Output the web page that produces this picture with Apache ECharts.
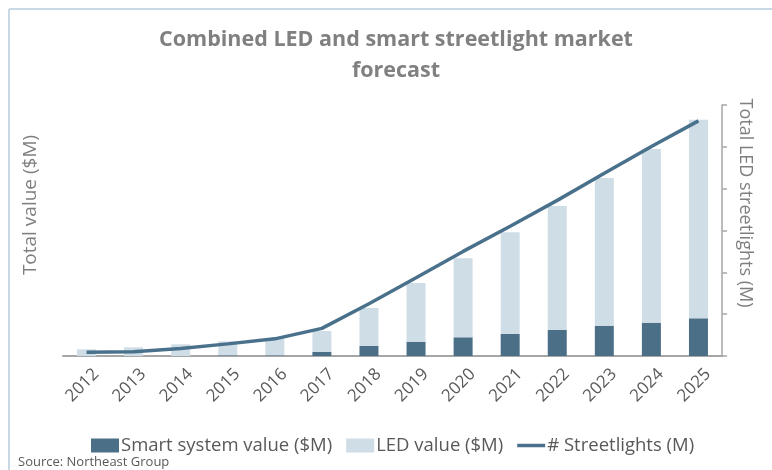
<!DOCTYPE html>
<html>
<head>
<meta charset="utf-8">
<script src="https://cdn.jsdelivr.net/npm/echarts@6/dist/echarts.min.js"></script>
<style>html,body{margin:0;padding:0;background:#fff}#c{width:772px;height:470px}</style>
</head>
<body>
<div id="c"></div>
<script>
const years = ['2012','2013','2014','2015','2016','2017','2018','2019','2020','2021','2022','2023','2024','2025'];
const smartValue = [0, 0, 0, 17, 17, 96, 239, 342, 447, 526, 622, 724, 796, 901];
const ledValue = [160, 208, 280, 334, 413, 502, 908, 1403, 1889, 2431, 2964, 3531, 4153, 4748];
const streetlights = [0.9, 1.0, 1.8, 2.9, 4.1, 6.6, 12.5, 18.7, 25.0, 31.0, 37.2, 43.7, 50.1, 56.2];

const FONT = '"Open Sans", sans-serif';
const chart = echarts.init(document.getElementById('c'), null, {renderer: 'canvas'});
chart.setOption({
  animation: false,
  backgroundColor: '#fff',
  title: {
    text: 'Combined LED and smart streetlight market\nforecast',
    left: 391, top: 19, textAlign: 'center',
    textStyle: {fontFamily: FONT, fontWeight: 'bold', fontSize: 21.5, color: '#808080', lineHeight: 31}
  },
  grid: {left: 63, right: 50, top: 105, bottom: 114, containLabel: false},
  legend: {
    top: 431, left: 86,
    itemWidth: 28, itemHeight: 14, itemGap: 14,
    textStyle: {fontFamily: FONT, fontSize: 18.5, color: '#595959', padding: [0,0,0,-3]},
    data: [
      {name: 'Smart system value ($M)', icon: 'rect'},
      {name: 'LED value ($M)', icon: 'rect'},
      {name: '# Streetlights (M)', icon: 'path://M0,0L24,0L24,3L0,3Z'}
    ]
  },
  xAxis: {
    type: 'category', data: years,
    axisLine: {lineStyle: {color: '#a6a6a6', width: 2}},
    axisTick: {show: false},
    axisLabel: {rotate: 45, fontFamily: FONT, fontSize: 17, color: '#595959', margin: 6,
                verticalAlign: 'top', padding: [5,0,0,0]}
  },
  yAxis: [
    {type: 'value', min: 0, max: 6000, interval: 1000,
     axisLine: {show: false}, axisTick: {show: false}, axisLabel: {show: false}, splitLine: {show: false}},
    {type: 'value', position: 'right', min: 0, max: 60, interval: 10,
     axisLine: {show: true, lineStyle: {color: '#a6a6a6', width: 1.5}},
     axisTick: {show: true, length: 5, lineStyle: {color: '#a6a6a6', width: 1.5}},
     axisLabel: {show: false}, splitLine: {show: false}}
  ],
  series: [
    {name: 'Smart system value ($M)', type: 'bar', stack: 'v', data: smartValue, barWidth: 19,
     itemStyle: {color: '#4c6f88'}},
    {name: 'LED value ($M)', type: 'bar', stack: 'v', data: ledValue, barWidth: 19,
     itemStyle: {color: '#cfdde6'}},
    {name: '# Streetlights (M)', type: 'line', yAxisIndex: 1, data: streetlights,
     symbol: 'none', showSymbol: false,
     lineStyle: {color: '#4a718b', width: 3.5}, itemStyle: {color: '#4a718b'}}
  ],
  graphic: [
    {type: 'line', shape: {x1: 9, y1: 9, x2: 772, y2: 9}, style: {stroke: '#c8d9e5', lineWidth: 2}},
    {type: 'line', shape: {x1: 9, y1: 9, x2: 9, y2: 470}, style: {stroke: '#c8d9e5', lineWidth: 2}},
    {type: 'text', x: 31, y: 205, rotation: Math.PI/2,
     style: {text: 'Total value ($M)', font: '19px "Open Sans", sans-serif', fill: '#7f7f7f', textAlign: 'center', textVerticalAlign: 'middle'}},
    {type: 'text', x: 745, y: 203, rotation: -Math.PI/2,
     style: {text: 'Total LED streetlights (M)', font: '18px "Open Sans", sans-serif', fill: '#7f7f7f', textAlign: 'center', textVerticalAlign: 'middle'}},
    {type: 'text', x: 18, y: 462,
     style: {text: 'Source: Northeast Group', font: '13px "Open Sans", sans-serif', fill: '#595959', textAlign: 'left', textVerticalAlign: 'middle'}}
  ]
});
</script>
</body>
</html>
